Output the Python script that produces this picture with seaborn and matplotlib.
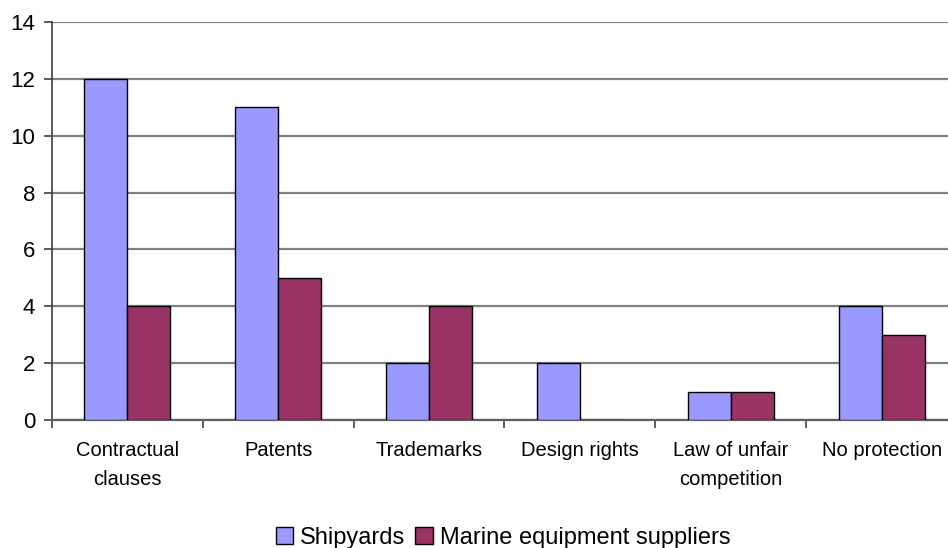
import matplotlib
matplotlib.use("Agg")
import matplotlib.pyplot as plt
import seaborn as sns
import pandas as pd
import numpy as np
from matplotlib.patches import Patch

categories = ["Contractual\nclauses", "Patents", "Trademarks", "Design rights",
              "Law of unfair\ncompetition", "No protection"]
shipyards = [12, 11, 2, 2, 1, 4]
marine_suppliers = [4, 5, 4, 0, 1, 3]
series_names = ["Shipyards", "Marine equipment suppliers"]
colors = ["#9999FF", "#993366"]

df = pd.DataFrame({
    "category": categories * 2,
    "value": shipyards + marine_suppliers,
    "series": [series_names[0]] * len(categories) + [series_names[1]] * len(categories),
})

sns.set_theme(style="white")
plt.rcParams["font.family"] = ["Liberation Sans", "DejaVu Sans"]
plt.rcParams["text.color"] = "black"
plt.rcParams["xtick.color"] = "black"
plt.rcParams["ytick.color"] = "black"

fig = plt.figure(figsize=(9.48, 5.48), dpi=100)
ax = fig.add_axes([52 / 948, 128 / 548, 905 / 948, 398 / 548])

sns.barplot(data=df, x="category", y="value", hue="series", palette=colors,
            order=categories, hue_order=series_names, width=0.57, saturation=1,
            edgecolor="black", linewidth=1.0, ax=ax, legend=False, zorder=3)

ax.set_xlim(-0.5, len(categories) - 0.5)
ax.set_ylim(0, 14)
ax.set_yticks(np.arange(0, 15, 2))
ax.yaxis.grid(True, color="#808080", linewidth=1.6, zorder=0)
ax.set_axisbelow(True)

for side in ["top", "right"]:
    ax.spines[side].set_visible(False)
ax.spines["left"].set_color("#404040")
ax.spines["bottom"].set_color("#606060")
ax.spines["left"].set_linewidth(1.2)
ax.spines["bottom"].set_linewidth(1.6)

ax.set_xlabel("")
ax.set_ylabel("")

# category labels at centres, tick marks at category boundaries
ax.set_xticks(np.arange(len(categories)))
ax.set_xticklabels(categories, fontsize=14.5, linespacing=1.65)
ax.tick_params(axis="x", which="major", length=0, pad=15)
ax.set_xticks(np.arange(-0.5, len(categories) - 0.5 + 1e-9, 1.0), minor=True)
ax.tick_params(axis="x", which="minor", length=6, width=1.2, color="#404040",
               direction="out", bottom=True)
ax.tick_params(axis="y", length=6, width=1.2, color="#404040", direction="out",
               left=True, labelsize=16, labelcolor="black", pad=6)
ax.tick_params(axis="x", labelcolor="black")

handles = [Patch(facecolor=c, edgecolor="black", linewidth=1.0) for c in colors]
fig.legend(handles, series_names, loc="center", bbox_to_anchor=(503 / 948, 1 - 538 / 548),
           ncol=2, frameon=False, fontsize=17, handlelength=0.75, handleheight=0.75,
           handletextpad=0.3, columnspacing=0.4)

fig.savefig("out.png", dpi=100)
